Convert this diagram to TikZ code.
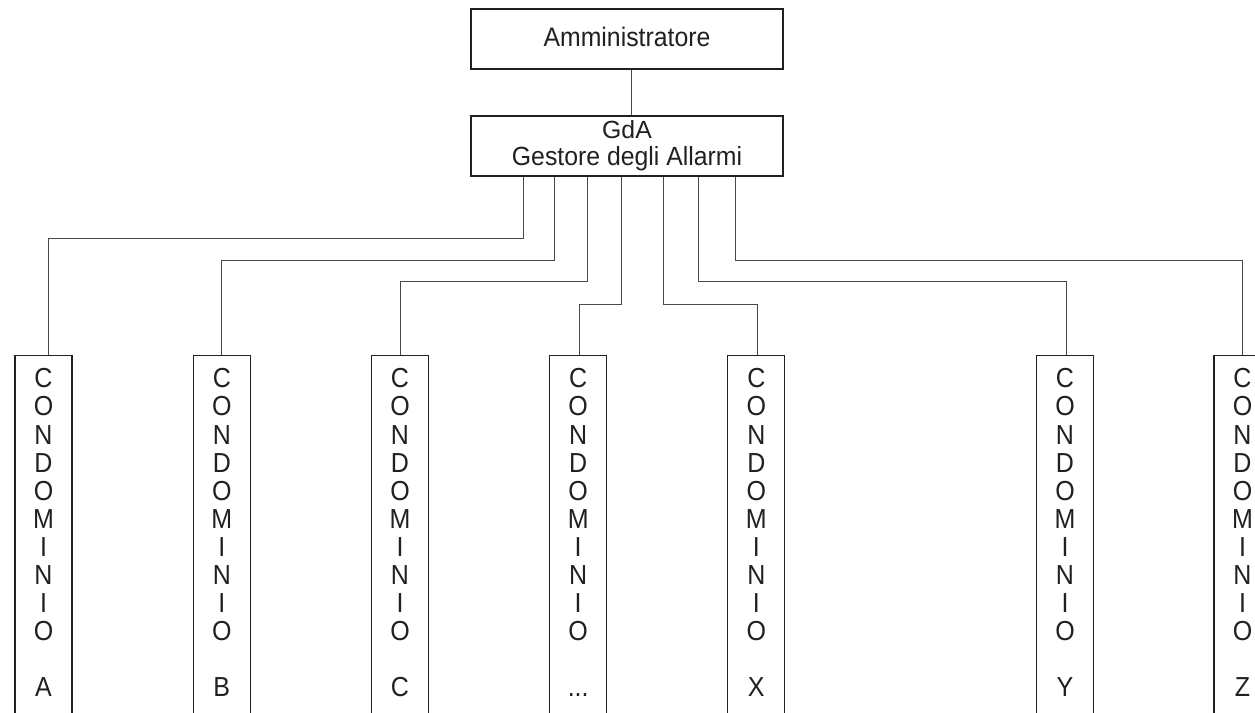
\documentclass[tikz,border=0pt]{standalone}
\usepackage{fontspec}
\usepackage{graphicx}
\setmainfont{Liberation Sans}
\definecolor{ink}{HTML}{231F20}
\definecolor{wire}{HTML}{4A4A4A}
\tikzset{
  topbox/.style={draw=ink, line width=1.3pt, text=ink, minimum width=312pt, minimum height=60pt,
    inner sep=0pt, align=center, font=\fontsize{24.8}{27}\selectfont},
  condo/.style={draw=ink, line width=1.3pt, text=ink, minimum width=57pt, inner xsep=0pt,
    inner ysep=13pt, anchor=north, align=center, font=\fontsize{25}{28.1}\selectfont},
  conn/.style={draw=wire, line width=0.8pt}
}
\newcommand{\vst}[1]{\scalebox{1}[1.1]{#1}}
\newcommand{\condotext}[1]{\vst{C}\\\vst{O}\\\vst{N}\\\vst{D}\\\vst{O}\\\vst{M}\\\vst{I}\\\vst{N}\\\vst{I}\\\vst{O}\\[28pt]\vst{#1}\\\strut}
\begin{document}
\begin{tikzpicture}[x=1pt,y=-1pt]
\useasboundingbox (0,0) rectangle (1255,712);
\clip (0,0) rectangle (1255,712);
\node[topbox, text depth=4pt] (adm) at (627,39) {\scalebox{1}[1.08]{Amministratore}};
\node[topbox] (gda) at (627,146) {GdA\\\scalebox{1}[1.06]{Gestore degli Allarmi}};
\draw[conn] ([xshift=4pt]adm.south) -- ([xshift=4pt]gda.north);

\node[condo] (cA) at (43.5,355) {\condotext{A}};
\node[condo] (cB) at (221.8,355) {\condotext{B}};
\node[condo] (cC) at (400,355) {\condotext{C}};
\node[condo] (cD) at (578.2,355) {\condotext{...}};
\node[condo] (cX) at (756.3,355) {\condotext{X}};
\node[condo] (cY) at (1065,355) {\condotext{Y}};
\node[condo] (cZ) at (1242.5,355) {\condotext{Z}};

\draw[conn] ([xshift=-104pt]gda.south) -- ++(0,62) -| ([xshift=4.5pt]cA.north);
\draw[conn] ([xshift=-73pt]gda.south) -- ++(0,84) -| ([xshift=-0.5pt]cB.north);
\draw[conn] ([xshift=-40pt]gda.south) -- ++(0,105) -| ([xshift=0.7pt]cC.north);
\draw[conn] ([xshift=-6pt]gda.south) -- ++(0,128) -| ([xshift=0.8pt]cD.north);
\draw[conn] ([xshift=36pt]gda.south) -- ++(0,128) -| ([xshift=1pt]cX.north);
\draw[conn] ([xshift=71pt]gda.south) -- ++(0,105) -| ([xshift=1.7pt]cY.north);
\draw[conn] ([xshift=108pt]gda.south) -- ++(0,84) -| ([xshift=-0.2pt]cZ.north);
\end{tikzpicture}
\end{document}
